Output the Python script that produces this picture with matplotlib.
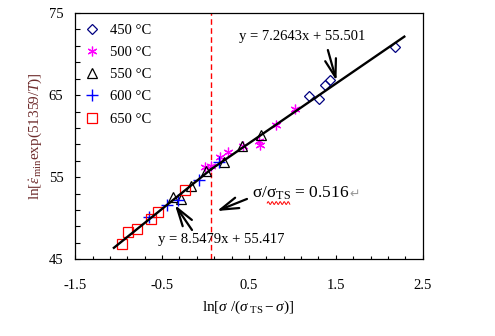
import numpy as np
import matplotlib
matplotlib.use("Agg")
import matplotlib.pyplot as plt
from matplotlib.ticker import FixedLocator

plt.rcParams["font.family"] = ["Liberation Serif", "DejaVu Sans"]
plt.rcParams["mathtext.fontset"] = "custom"
plt.rcParams["mathtext.rm"] = "Liberation Serif"
plt.rcParams["mathtext.it"] = "Liberation Serif:italic"
plt.rcParams["mathtext.bf"] = "Liberation Serif:bold"
plt.rcParams["axes.unicode_minus"] = False

# ln[sigma/(sigma_TS - sigma)] vs ln[eps_min exp(51359/T)] for each temperature
x_450 = [1.194, 1.306, 1.375, 1.438, 2.181]
y_450 = [64.95, 64.50, 66.23, 66.80, 70.90]

x_500 = [-0.007, 0.068, 0.172, 0.258, 0.434, 0.619, 0.625, 0.811, 1.030]
y_500 = [56.24, 56.36, 57.52, 58.07, 58.86, 59.35, 58.92, 61.30, 63.31]

x_550 = [-0.373, -0.283, -0.168, 0.005, 0.210, 0.418, 0.637]
y_550 = [52.53, 52.35, 53.93, 55.76, 56.85, 58.86, 60.14]

x_600 = [-0.646, -0.444, -0.318, -0.081, 0.155]
y_600 = [50.21, 51.61, 52.28, 54.66, 56.85]

x_650 = [-0.959, -0.887, -0.793, -0.628, -0.545, -0.233]
y_650 = [46.92, 48.30, 48.75, 49.91, 50.79, 53.44]

x_major = [-1.5, -0.5, 0.5, 1.5, 2.5]
y_major = [45, 55, 65, 75]

# Linear fits on either side of the transition stress ratio
low_slope, low_icpt = 8.5479, 55.417
high_slope, high_icpt = 7.2643, 55.501
x_low_start = -1.055
x_high_end = 2.288
stress_ratio = 0.516
x_break = np.log(stress_ratio / (1 - stress_ratio))

fig = plt.figure(figsize=(4.95, 3.36), dpi=100)
ax = fig.add_axes([0.152, 0.2283, 0.702, 0.733])

ax.set_xlim(-1.5, 2.5)
ax.set_ylim(45, 75)

mk = dict(linestyle="none", markersize=7, markeredgewidth=0.9)
ax.plot(x_450, y_450, marker="D", markersize=5.6, mfc="none", mec="#000080",
        linestyle="none", markeredgewidth=0.9, label="450 °C")
ax.plot(x_500, y_500, marker=(6, 2, 0), color="#FF00FF", label="500 °C", **mk)
ax.plot(x_550, y_550, marker="^", mfc="none", mec="black", label="550 °C", **mk)
ax.plot(x_600, y_600, marker="+", color="#0000FF", label="600 °C",
        linestyle="none", markersize=8, markeredgewidth=1.0)
ax.plot(x_650, y_650, marker="s", mfc="none", mec="#FF0000", label="650 °C", **mk)

xl = np.array([x_low_start, x_break])
ax.plot(xl, low_slope * xl + low_icpt, color="black", lw=1.7, zorder=3)
xh = np.array([x_break, x_high_end])
ax.plot(xh, high_slope * xh + high_icpt, color="black", lw=1.7, zorder=3)

ax.axvline(x_break, color="#FF0000", lw=1.0, dashes=(4, 2.5), zorder=1)

# Axis ticks
ax.xaxis.set_major_locator(FixedLocator(x_major))
ax.xaxis.set_minor_locator(FixedLocator(np.arange(-1.5, 2.51, 0.2)))
ax.yaxis.set_major_locator(FixedLocator(y_major))
ax.yaxis.set_minor_locator(FixedLocator(np.arange(45, 75.1, 2)))
ax.tick_params(axis="x", which="major", direction="in", length=3.2, width=0.8,
               labelsize=10.5, pad=14)
ax.tick_params(axis="x", which="minor", direction="in", length=2.0, width=0.8)
ax.tick_params(axis="y", which="both", direction="in", length=3.3, width=0.8,
               labelsize=10.5, pad=8.5)
for s in ax.spines.values():
    s.set_linewidth(0.9)

ax.set_xlabel(r"ln[$\sigma$ /($\sigma_{\ \mathrm{TS}} - \sigma$)]", fontsize=11)
ax.xaxis.set_label_coords(0.496, -0.194)
ax.xaxis.label.set_va("center")
ax.set_ylabel(r"ln[$\dot{\varepsilon}_{\mathrm{min}}$exp(51359/$T$)]",
              fontsize=11, color="#6e2c2c")
ax.yaxis.set_label_coords(-0.116, 0.5)
ax.yaxis.label.set_va("center")

leg = ax.legend(loc="upper left", frameon=False, fontsize=10.5,
                bbox_to_anchor=(-0.01, 1.005), handlelength=1.2,
                handletextpad=0.6, labelspacing=0.62, borderaxespad=0.4,
                numpoints=1)

arrow_kw = dict(arrowstyle="->, head_length=1.3, head_width=0.4",
                lw=1.6, color="black", mutation_scale=10,
                shrinkA=0, shrinkB=0)

ax.text(0.385, 72.08, f"y = {high_slope}x + {high_icpt}", fontsize=10.5,
        ha="left", va="center")
ax.annotate("", xy=(1.507, 66.75), xytext=(1.408, 70.49), arrowprops=arrow_kw)

ax.text(-0.548, 47.35, f"y = {low_slope}x + {low_icpt}", fontsize=10.5,
        ha="left", va="center")
ax.annotate("", xy=(-0.352, 51.61), xytext=(-0.156, 48.57), arrowprops=arrow_kw)

ax.annotate("", xy=(0.131, 50.88), xytext=(0.477, 52.35), arrowprops=arrow_kw)
ratio_txt = ax.text(0.535, 53.08,
                    r"$\mathrm{\sigma}/\mathrm{\sigma}_{\mathrm{TS}}$" + f" = {stress_ratio}",
                    fontsize=12.5, ha="left", va="center")
ax.annotate("↵", xy=(1.0, 0.45), xycoords=ratio_txt, ha="left", va="center",
            fontsize=9, color="#9a9a9a", family=["DejaVu Sans"])

# wavy proofing underline beneath the subscripted symbol
wx = np.linspace(0.71, 0.97, 60)
wy = 51.85 + 0.17 * np.sin((wx - 0.71) / 0.046 * 2 * np.pi)
ax.plot(wx, wy, color="#FF0000", lw=0.7)

fig.savefig("out.png", dpi=100)
